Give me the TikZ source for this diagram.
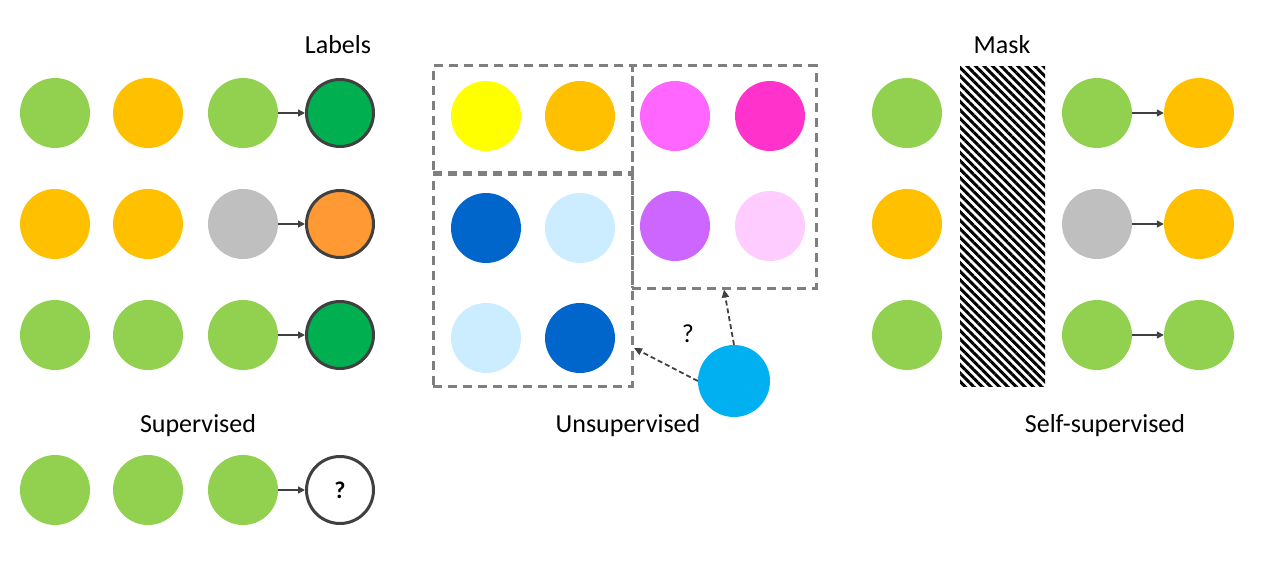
\documentclass[tikz,border=0pt]{standalone}
\usepackage{fontspec}
\setmainfont{Carlito}
\usetikzlibrary{arrows.meta, patterns.meta}
\definecolor{Leaf}{HTML}{92D050}
\definecolor{Amber}{HTML}{FFC000}
\definecolor{Ash}{HTML}{BFBFBF}
\definecolor{Forest}{HTML}{00B050}
\definecolor{Tangerine}{HTML}{FF9933}
\definecolor{Lemon}{HTML}{FFFF00}
\definecolor{Pink}{HTML}{FF66FF}
\definecolor{Magenta}{HTML}{FF33CC}
\definecolor{Royal}{HTML}{0066CC}
\definecolor{Sky}{HTML}{CCECFF}
\definecolor{Violet}{HTML}{CC66FF}
\definecolor{Blush}{HTML}{FFCCFF}
\definecolor{Cyan}{HTML}{00B0F0}
\definecolor{Ink}{HTML}{404040}
\definecolor{Frame}{HTML}{7F7F7F}

\begin{document}
\begin{tikzpicture}[x=1pt, y=-1pt,
  ball/.style={circle, minimum size=70pt, inner sep=0pt},
  target/.style={circle, minimum size=67pt, inner sep=0pt, draw=Ink, line width=3pt},
  arr/.style={-{Triangle[length=7pt, width=7pt]}, line width=1.3pt, Ink},
  darr/.style={-{Triangle[length=8pt, width=7pt]}, line width=1.8pt, Ink,
     dash pattern=on 5pt off 3pt},
  group/.style={draw=Frame, line width=3pt, dash pattern=on 9pt off 6pt,
     inner sep=0pt},
  title/.style={font=\fontsize{26}{30}\selectfont}]
  \useasboundingbox (0,0) rectangle (1278,567);

  % supervised
  \node[ball, fill=Leaf] (s11) at (55,113) {};
  \node[ball, fill=Amber] (s12) at (148,113) {};
  \node[ball, fill=Leaf] (s13) at (243,113) {};
  \node[target, fill=Forest] (s14) at (340,113) {};
  \node[ball, fill=Amber] (s21) at (55,224) {};
  \node[ball, fill=Amber] (s22) at (148,224) {};
  \node[ball, fill=Ash] (s23) at (243,224) {};
  \node[target, fill=Tangerine] (s24) at (340,224) {};
  \node[ball, fill=Leaf] (s31) at (55,335) {};
  \node[ball, fill=Leaf] (s32) at (148,335) {};
  \node[ball, fill=Leaf] (s33) at (243,335) {};
  \node[target, fill=Forest] (s34) at (340,335) {};
  \node[ball, fill=Leaf] (s41) at (55,490) {};
  \node[ball, fill=Leaf] (s42) at (148,490) {};
  \node[ball, fill=Leaf] (s43) at (243,490) {};
  \node[target, fill=white, font=\fontsize{24}{28}\selectfont\bfseries] (s44)
        at (340,490) {?};
  \draw[arr] (s13) -- (s14);
  \draw[arr] (s23) -- (s24);
  \draw[arr] (s33) -- (s34);
  \draw[arr] (s43) -- (s44);
  \node[title] (labels) at (338,45) {Labels};
  \node[title] (sup) at (198,426) {Supervised};

  % unsupervised
  \node[group, minimum width=199pt, minimum height=107pt] (box1) at (532.5,119.5) {};
  \node[group, minimum width=184pt, minimum height=222pt] (box2) at (724,177) {};
  \node[group, minimum width=199pt, minimum height=211pt] (box3) at (532.5,280.5) {};
  \node[ball, fill=Lemon] (u11) at (486,116) {};
  \node[ball, fill=Amber] (u12) at (580,116) {};
  \node[ball, fill=Pink] (u13) at (675,116) {};
  \node[ball, fill=Magenta] (u14) at (770,116) {};
  \node[ball, fill=Royal] (u21) at (486,228) {};
  \node[ball, fill=Sky] (u22) at (580,228) {};
  \node[ball, fill=Violet] (u23) at (675,226) {};
  \node[ball, fill=Blush] (u24) at (770,226) {};
  \node[ball, fill=Sky] (u31) at (486,338) {};
  \node[ball, fill=Royal] (u32) at (580,338) {};
  \node[ball, minimum size=72pt, fill=Cyan] (query) at (734,381) {};
  \coordinate (hit) at (634,348);
  \draw[darr] (query.west) -- (hit);
  \draw[darr] (query.north) -- (box2.south);
  \node[title] (ask) at (688,334) {?};
  \node[title] (unsup) at (628,426) {Unsupervised};

  % self-supervised
  \node[ball, fill=Leaf] (m11) at (907,113) {};
  \node[ball, fill=Amber] (m21) at (907,224) {};
  \node[ball, fill=Leaf] (m31) at (907,335) {};
  \node[minimum width=85pt, minimum height=319pt, inner sep=0pt,
        pattern={Lines[angle=-45, distance=6pt, line width=3pt]},
        pattern color=black] (mask) at (1002.5,226.5) {};
  \node[ball, fill=Leaf] (m12) at (1097,113) {};
  \node[ball, fill=Amber] (m13) at (1199,113) {};
  \node[ball, fill=Ash] (m22) at (1097,224) {};
  \node[ball, fill=Amber] (m23) at (1199,224) {};
  \node[ball, fill=Leaf] (m32) at (1097,335) {};
  \node[ball, fill=Leaf] (m33) at (1199,335) {};
  \draw[arr] (m12) -- (m13);
  \draw[arr] (m22) -- (m23);
  \draw[arr] (m32) -- (m33);
  \node[title] (masklab) at (1002,45) {Mask};
  \node[title] (selfsup) at (1105,426) {Self-supervised};
\end{tikzpicture}
\end{document}
